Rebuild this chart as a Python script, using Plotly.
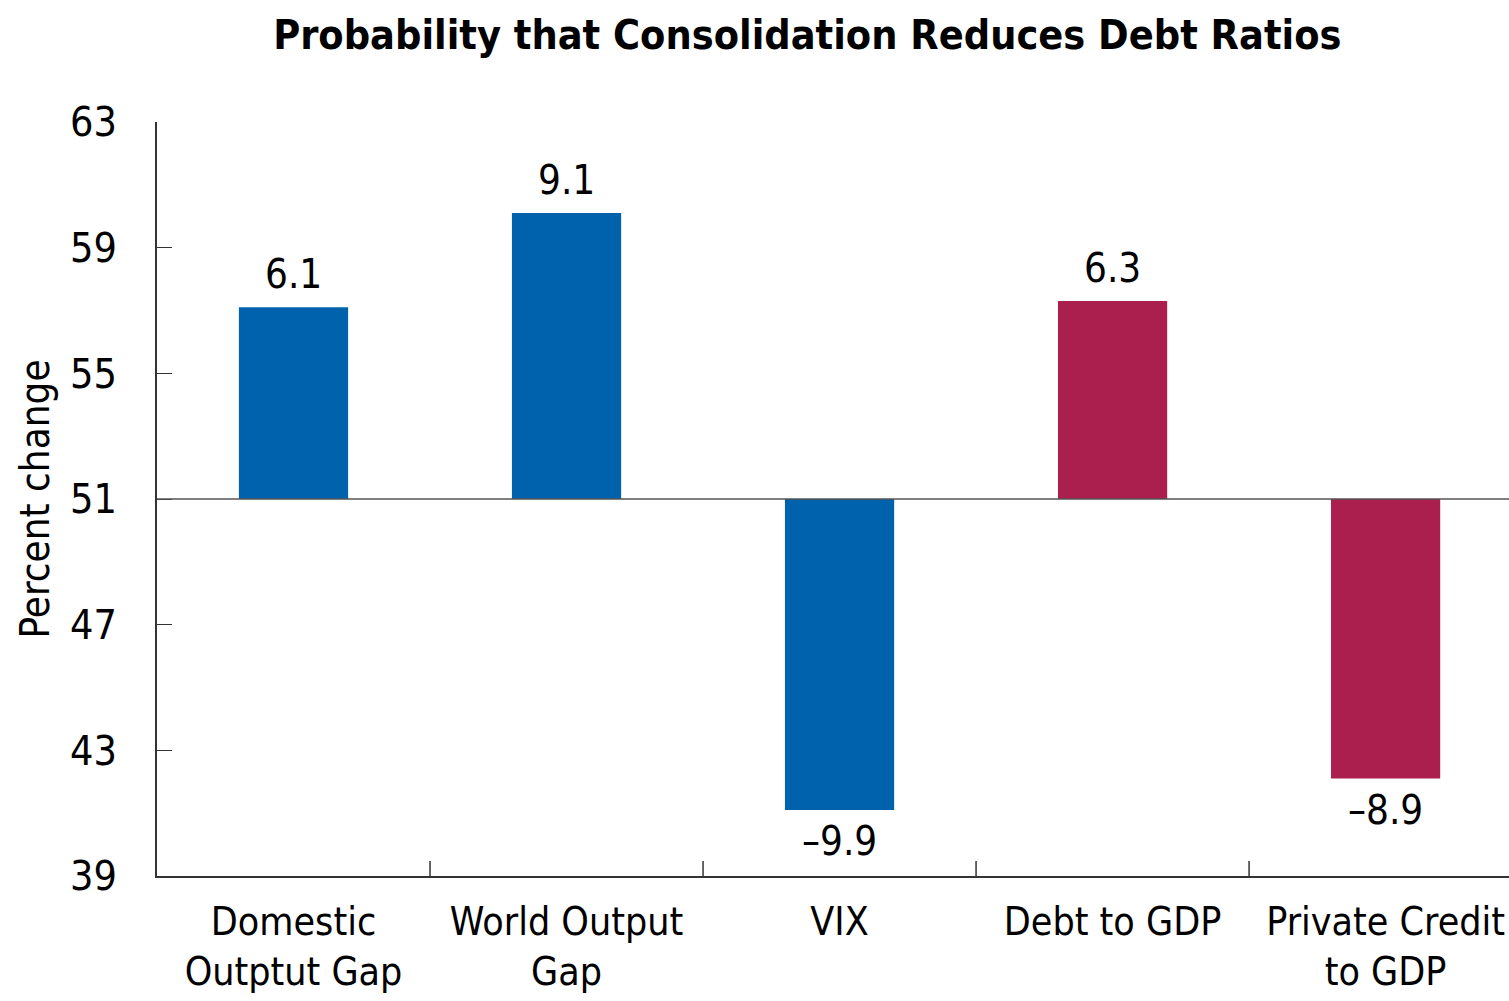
import plotly.graph_objects as go

# Change in probability (percentage points) relative to the 51 percent baseline
categories = ["Domestic<br>Outptut Gap", "World Output<br>Gap", "VIX", "Debt to GDP", "Private Credit<br>to GDP"]
changes = [6.1, 9.1, -9.9, 6.3, -8.9]
baseline = 51
bar_colors = ["#0062AD", "#0062AD", "#0062AD", "#AA1F4D", "#AA1F4D"]
y_ticks = [39, 43, 47, 51, 55, 59, 63]

FONT = "Liberation Sans Narrow, Arial Narrow, DejaVu Sans Condensed, sans-serif"

labels = [f"{v:.1f}".replace("-", "\u2013") for v in changes]
xs = list(range(len(categories)))

fig = go.Figure(
    go.Bar(
        x=xs,
        y=changes,
        base=baseline,
        width=0.4,
        marker=dict(color=bar_colors, line=dict(width=0)),
        cliponaxis=False,
    )
)

# value labels above positive bars, below negative bars
for x, v, t in zip(xs, changes, labels):
    up = v >= 0
    fig.add_annotation(
        x=x, y=baseline + v, xref="x", yref="y",
        text=t, showarrow=False,
        yanchor="bottom" if up else "top",
        yshift=8 if up else -6,
        font=dict(family=FONT, size=40, color="black"),
    )

fig.add_shape(
    type="line", xref="paper", yref="y",
    x0=0, x1=1, y0=baseline, y1=baseline,
    line=dict(color="#555555", width=1.5),
)

# category boundary ticks along the bottom axis
for b in [0.5, 1.5, 2.5, 3.5]:
    fig.add_shape(
        type="line", xref="x", yref="paper",
        x0=b, x1=b, y0=0, y1=0.02,
        line=dict(color="#333333", width=1.5),
    )

fig.update_layout(
    width=1509, height=1001,
    margin=dict(l=157, r=0, t=122, b=125),
    paper_bgcolor="white", plot_bgcolor="white",
    showlegend=False,
    title=dict(
        text="<b>Probability that Consolidation Reduces Debt Ratios</b>",
        x=0.535, xanchor="center", y=0.965, yanchor="middle",
        font=dict(family=FONT, size=41, color="black"),
    ),
    font=dict(family=FONT, color="black"),
    xaxis=dict(
        range=[-0.5, 4.452],
        tickvals=xs, ticktext=categories,
        showline=True, linecolor="#333333", linewidth=1.5,
        ticks="", ticklabelstandoff=10,
        tickfont=dict(family=FONT, size=39), showgrid=False, zeroline=False,
    ),
    yaxis=dict(
        range=[39, 63], tickvals=y_ticks,
        showline=True, linecolor="#333333", linewidth=1.5,
        ticks="inside", ticklen=15, tickcolor="#333333",
        ticklabelstandoff=30,
        tickfont=dict(family=FONT, size=41), showgrid=False, zeroline=False,
        title=dict(text="Percent change", font=dict(family=FONT, size=40), standoff=8),
    ),
)

fig.write_html("out.html")
